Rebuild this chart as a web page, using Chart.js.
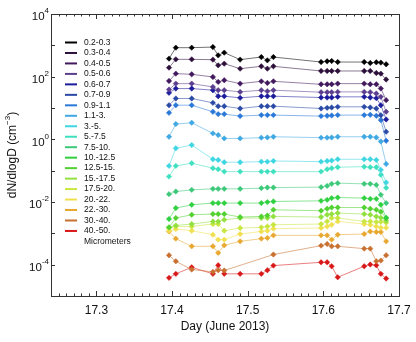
<!DOCTYPE html>
<html>
<head>
<meta charset="utf-8">
<title>dN/dlogD</title>
<script src="https://cdn.jsdelivr.net/npm/chart.js@4.4.1/dist/chart.umd.min.js"></script>
<style>
  html, body { margin: 0; padding: 0; background: #fff; }
  #wrap { width: 416px; height: 342px; }
</style>
</head>
<body>
<div id="wrap"><canvas id="sizeChart" width="416" height="342"></canvas></div>
<script>
// sample times (day of June 2013)
const days = [17.396, 17.405, 17.426, 17.454, 17.461, 17.469, 17.490, 17.518, 17.526, 17.534,
              17.597, 17.605, 17.611, 17.619, 17.654, 17.662, 17.670, 17.676, 17.683];

const sizeBins = ['0.2-0.3', '0.3-0.4', '0.4-0.5', '0.5-0.6', '0.6-0.7', '0.7-0.9', '0.9-1.1',
                  '1.1-3.', '3.-5.', '5.-7.5', '7.5-10.', '10.-12.5', '12.5-15.', '15.-17.5',
                  '17.5-20.', '20.-22.', '22.-30.', '30.-40.', '40.-50.'];

const binColors = ['#000000', '#2d0f3a', '#42195e', '#5b3e8e', '#1c1c9c', '#2a4aa6', '#2a78d8',
                   '#40a8e2', '#3ed6e2', '#3ee0c0', '#3cc878', '#30d040', '#52d230', '#92e040',
                   '#c8e640', '#f0e050', '#e8a830', '#c87030', '#d81818'];

// dN/dlogD (cm^-3), one array per size bin
const d02_03 = [376, 842, 842, 880, 479, 584, 350, 423, 332, 423, 293, 309, 316, 293, 293, 273, 287, 281, 248];
const d03_04 = [194, 357, 357, 349, 230, 260, 180, 214, 180, 214, 152, 152, 152, 152, 152, 152, 131, 125, 81];
const d04_05 = [73, 125, 119, 98, 68, 77, 60, 71, 63, 71, 57, 57, 57, 60, 60, 57, 57, 42, 17.8];
const d05_06 = [38.8, 60, 60, 47, 37, 37, 32.7, 37, 34.3, 37, 31.9, 31.9, 31.9, 32.7, 32.7, 31.9, 28.9, 22.7, 7.6];
const d06_07 = [30.4, 41.7, 41.7, 37, 23.8, 23.8, 21.1, 23.8, 23.8, 23.8, 21.6, 21.6, 21.6, 22.7, 22.7, 21.6, 20.6, 12.3, 4.3];
const d07_09 = [12.3, 20.1, 20.1, 14.6, 11.4, 11.4, 9.65, 11.4, 11.4, 11.4, 9.65, 10.1, 10.4, 10.9, 10.9, 10.4, 9.65, 5.9, 1.75];
const d09_11 = [7.0, 12.3, 12.3, 7.56, 6.38, 6.38, 5.51, 5.93, 5.93, 5.93, 5.51, 5.64, 5.78, 5.93, 5.93, 6.07, 5.64, 4.1, 0.9];
const d11_3 = [1.21, 3.07, 3.38, 1.55, 1.37, 1.07, 1.07, 1.13, 1.15, 1.21, 1.13, 1.13, 1.15, 1.21, 1.21, 1.21, 1.15, 0.85, 0.164];
const d3_5 = [0.142, 0.518, 0.659, 0.231, 0.22, 0.186, 0.186, 0.194, 0.194, 0.204, 0.194, 0.204, 0.21, 0.231, 0.231, 0.231, 0.22, 0.106, 0.0417];
const d5_75 = [0.0647, 0.142, 0.173, 0.12, 0.111, 0.0933, 0.0933, 0.0933, 0.0933, 0.0933, 0.0933, 0.111, 0.12, 0.129, 0.134, 0.129, 0.129, 0.0733, 0.0283];
const d75_10 = [0.0178, 0.0216, 0.0244, 0.0263, 0.0263, 0.0263, 0.0263, 0.0277, 0.0289, 0.0289, 0.0298, 0.0327, 0.0379, 0.0399, 0.0379, 0.0379, 0.0352, 0.0169, 0.00923];
const d10_125 = [0.00286, 0.0064, 0.00815, 0.00923, 0.00923, 0.00923, 0.00923, 0.00923, 0.00993, 0.0104, 0.0109, 0.0117, 0.0133, 0.0139, 0.0133, 0.0126, 0.0126, 0.00815, 0.00315];
const d125_15 = [0.00155, 0.00308, 0.00392, 0.00412, 0.00412, 0.00412, 0.00331, 0.00346, 0.00372, 0.00565, 0.00525, 0.00608, 0.00669, 0.00669, 0.00669, 0.00608, 0.00565, 0.00488, 0.00303];
const d15_175 = [0.00155, 0.00179, 0.00198, 0.0024, 0.0024, 0.00272, 0.00308, 0.00308, 0.00308, 0.00346, 0.00331, 0.00392, 0.00412, 0.00444, 0.00412, 0.00392, 0.00346, 0.00315, 0.00252];
const d175_20 = [0.00148, 0.00166, 0.00166, 0.00198, 0.00198, 0.00121, 0.00148, 0.00155, 0.00166, 0.00188, 0.00198, 0.0024, 0.00308, 0.00308, 0.0024, 0.0024, 0.0023, 0.00234, 0.00218];
const d20_22 = [0.00121, 0.00136, 0.00121, 0.000906, 0.000628, 0.000628, 0.00095, 0.00115, 0.00121, 0.00141, 0.00148, 0.00166, 0.00188, 0.0024, 0.00198, 0.00188, 0.00166, 0.00151, 0.00151];
const d22_30 = [0.00115, 0.000676, 0.000385, 0.000385, 0.000237, 0.000414, 0.000555, 0.000676, 0.000711, 0.000861, 0.000861, 0.000861, 0.000628, 0.000906, 0.00095, 0.00115, 0.0011, 0.0011, 0.000555];
const d30_40 = [0.000199, 0.000128, 0.0000698, 0.000059, 0.0000664, 0.0000649, null, null, null, 0.00021, 0.000405, 0.000458, 0.000385, 0.000385, 0.000325, 0.000325, 0.000128, 0.000135, 0.000199];
const d40_50 = [0.000038, 0.000051, 0.0000826, 0.000051, 0.0000957, 0.000051, 0.000051, 0.000051, 0.0000664, 0.0000935, 0.000119, 0.000119, 0.0000889, 0.0000397, 0.0000889, 0.000101, 0.0000957, 0.000051, 0.0000361];

const seriesValues = [d02_03, d03_04, d04_05, d05_06, d06_07, d07_09, d09_11, d11_3, d3_5, d5_75,
                      d75_10, d10_125, d125_15, d15_175, d175_20, d20_22, d22_30, d30_40, d40_50];

const xTickValues = [17.3, 17.4, 17.5, 17.6, 17.7];
const xTickLabels = ['17.3', '17.4', '17.5', '17.6', '17.7'];
const yTickPowers = [4, 2, 0, -2, -4];

const FONT = "'Liberation Sans', Arial, sans-serif";

function fade(hex, a) {
  const n = parseInt(hex.slice(1), 16);
  return `rgba(${n >> 16},${(n >> 8) & 255},${n & 255},${a})`;
}

const datasets = seriesValues.map((vals, i) => ({
  label: sizeBins[i],
  data: days.map((d, j) => ({ x: d, y: vals[j] })),
  borderColor: fade(binColors[i], 0.55),
  borderWidth: 1,
  pointStyle: 'rectRot',
  pointRadius: 2.7,
  pointBackgroundColor: binColors[i],
  pointBorderColor: binColors[i],
  pointBorderWidth: 0.5,
  spanGaps: true,
  tension: 0
}));

// axes box, inward ticks, labels and the in-plot legend (IDL style)
const idlAxes = {
  id: 'idlAxes',
  beforeDraw(chart) {
    const ctx = chart.ctx;
    ctx.save();
    ctx.fillStyle = '#fff';
    ctx.fillRect(0, 0, chart.width, chart.height);
    ctx.restore();
  },
  afterDraw(chart) {
    const { ctx, chartArea: a, scales: { x, y } } = chart;
    ctx.save();
    ctx.strokeStyle = '#333';
    ctx.lineWidth = 1;
    ctx.strokeRect(a.left + 0.5, a.top + 0.5, a.right - a.left, a.bottom - a.top);

    ctx.beginPath();
    // minor x ticks every 0.01 day, major every 0.1
    for (let k = 25; k <= 70; k++) {
      const px = Math.round(x.getPixelForValue(17 + k / 100)) + 0.5;
      const len = k % 10 === 0 ? 5 : 2.5;
      ctx.moveTo(px, a.bottom); ctx.lineTo(px, a.bottom - len);
      ctx.moveTo(px, a.top); ctx.lineTo(px, a.top + len);
    }
    // y ticks each decade
    for (let e = -4; e <= 3; e++) {
      const py = Math.round(y.getPixelForValue(Math.pow(10, e))) + 0.5;
      ctx.moveTo(a.left, py); ctx.lineTo(a.left + 4, py);
      ctx.moveTo(a.right, py); ctx.lineTo(a.right - 4, py);
    }
    ctx.stroke();

    ctx.fillStyle = '#111';
    // x tick labels
    ctx.font = `12px ${FONT}`;
    ctx.textAlign = 'center';
    ctx.textBaseline = 'middle';
    xTickValues.forEach((v, i) => ctx.fillText(xTickLabels[i], x.getPixelForValue(v), 311));
    ctx.fillText('Day (June 2013)', (a.left + a.right) / 2, 327);

    // y tick labels 10^n
    yTickPowers.forEach(p => {
      const py = y.getPixelForValue(Math.pow(10, p)) + 3;
      const exp = String(p);
      ctx.font = `8px ${FONT}`;
      const ew = ctx.measureText(exp).width;
      ctx.textAlign = 'right';
      ctx.textBaseline = 'middle';
      ctx.fillText(exp, a.left - 2, py - 6);
      ctx.font = `11.5px ${FONT}`;
      ctx.fillText('10', a.left - 2 - ew, py);
    });

    // y axis title, rotated
    ctx.save();
    ctx.translate(13, 155);
    ctx.rotate(-Math.PI / 2);
    ctx.textBaseline = 'middle';
    ctx.textAlign = 'left';
    ctx.font = `12px ${FONT}`;
    const p1 = 'dN/dlogD (cm', p3 = ')';
    ctx.font = `8px ${FONT}`;
    const w2 = ctx.measureText('\u22123').width;
    ctx.font = `12px ${FONT}`;
    const w1 = ctx.measureText(p1).width, w3 = ctx.measureText(p3).width;
    let sx = -(w1 + w2 + w3) / 2;
    ctx.fillText(p1, sx, 0);
    ctx.font = `8px ${FONT}`;
    ctx.fillText('\u22123', sx + w1, -5);
    ctx.font = `12px ${FONT}`;
    ctx.fillText(p3, sx + w1 + w2, 0);
    ctx.restore();

    // legend
    ctx.font = `8.5px ${FONT}`;
    ctx.textAlign = 'left';
    ctx.textBaseline = 'middle';
    sizeBins.forEach((name, i) => {
      const ly = 42.5 + i * 10.47;
      ctx.strokeStyle = binColors[i];
      ctx.lineWidth = 2;
      ctx.beginPath();
      ctx.moveTo(65, ly); ctx.lineTo(77, ly);
      ctx.stroke();
      ctx.fillStyle = '#111';
      ctx.fillText(name, 84, ly);
    });
    ctx.fillText('Micrometers', 84, 42.5 + sizeBins.length * 10.47);
    ctx.restore();
  }
};

new Chart(document.getElementById('sizeChart').getContext('2d'), {
  type: 'line',
  data: { datasets },
  options: {
    responsive: false,
    animation: false,
    layout: { padding: { left: 51, right: 17, top: 14, bottom: 46 } },
    plugins: { legend: { display: false }, tooltip: { enabled: false } },
    scales: {
      x: { type: 'linear', min: 17.24, max: 17.7, display: false },
      y: { type: 'logarithmic', min: 1e-5, max: 1e4, display: false }
    }
  },
  plugins: [idlAxes]
});
</script>
</body>
</html>
